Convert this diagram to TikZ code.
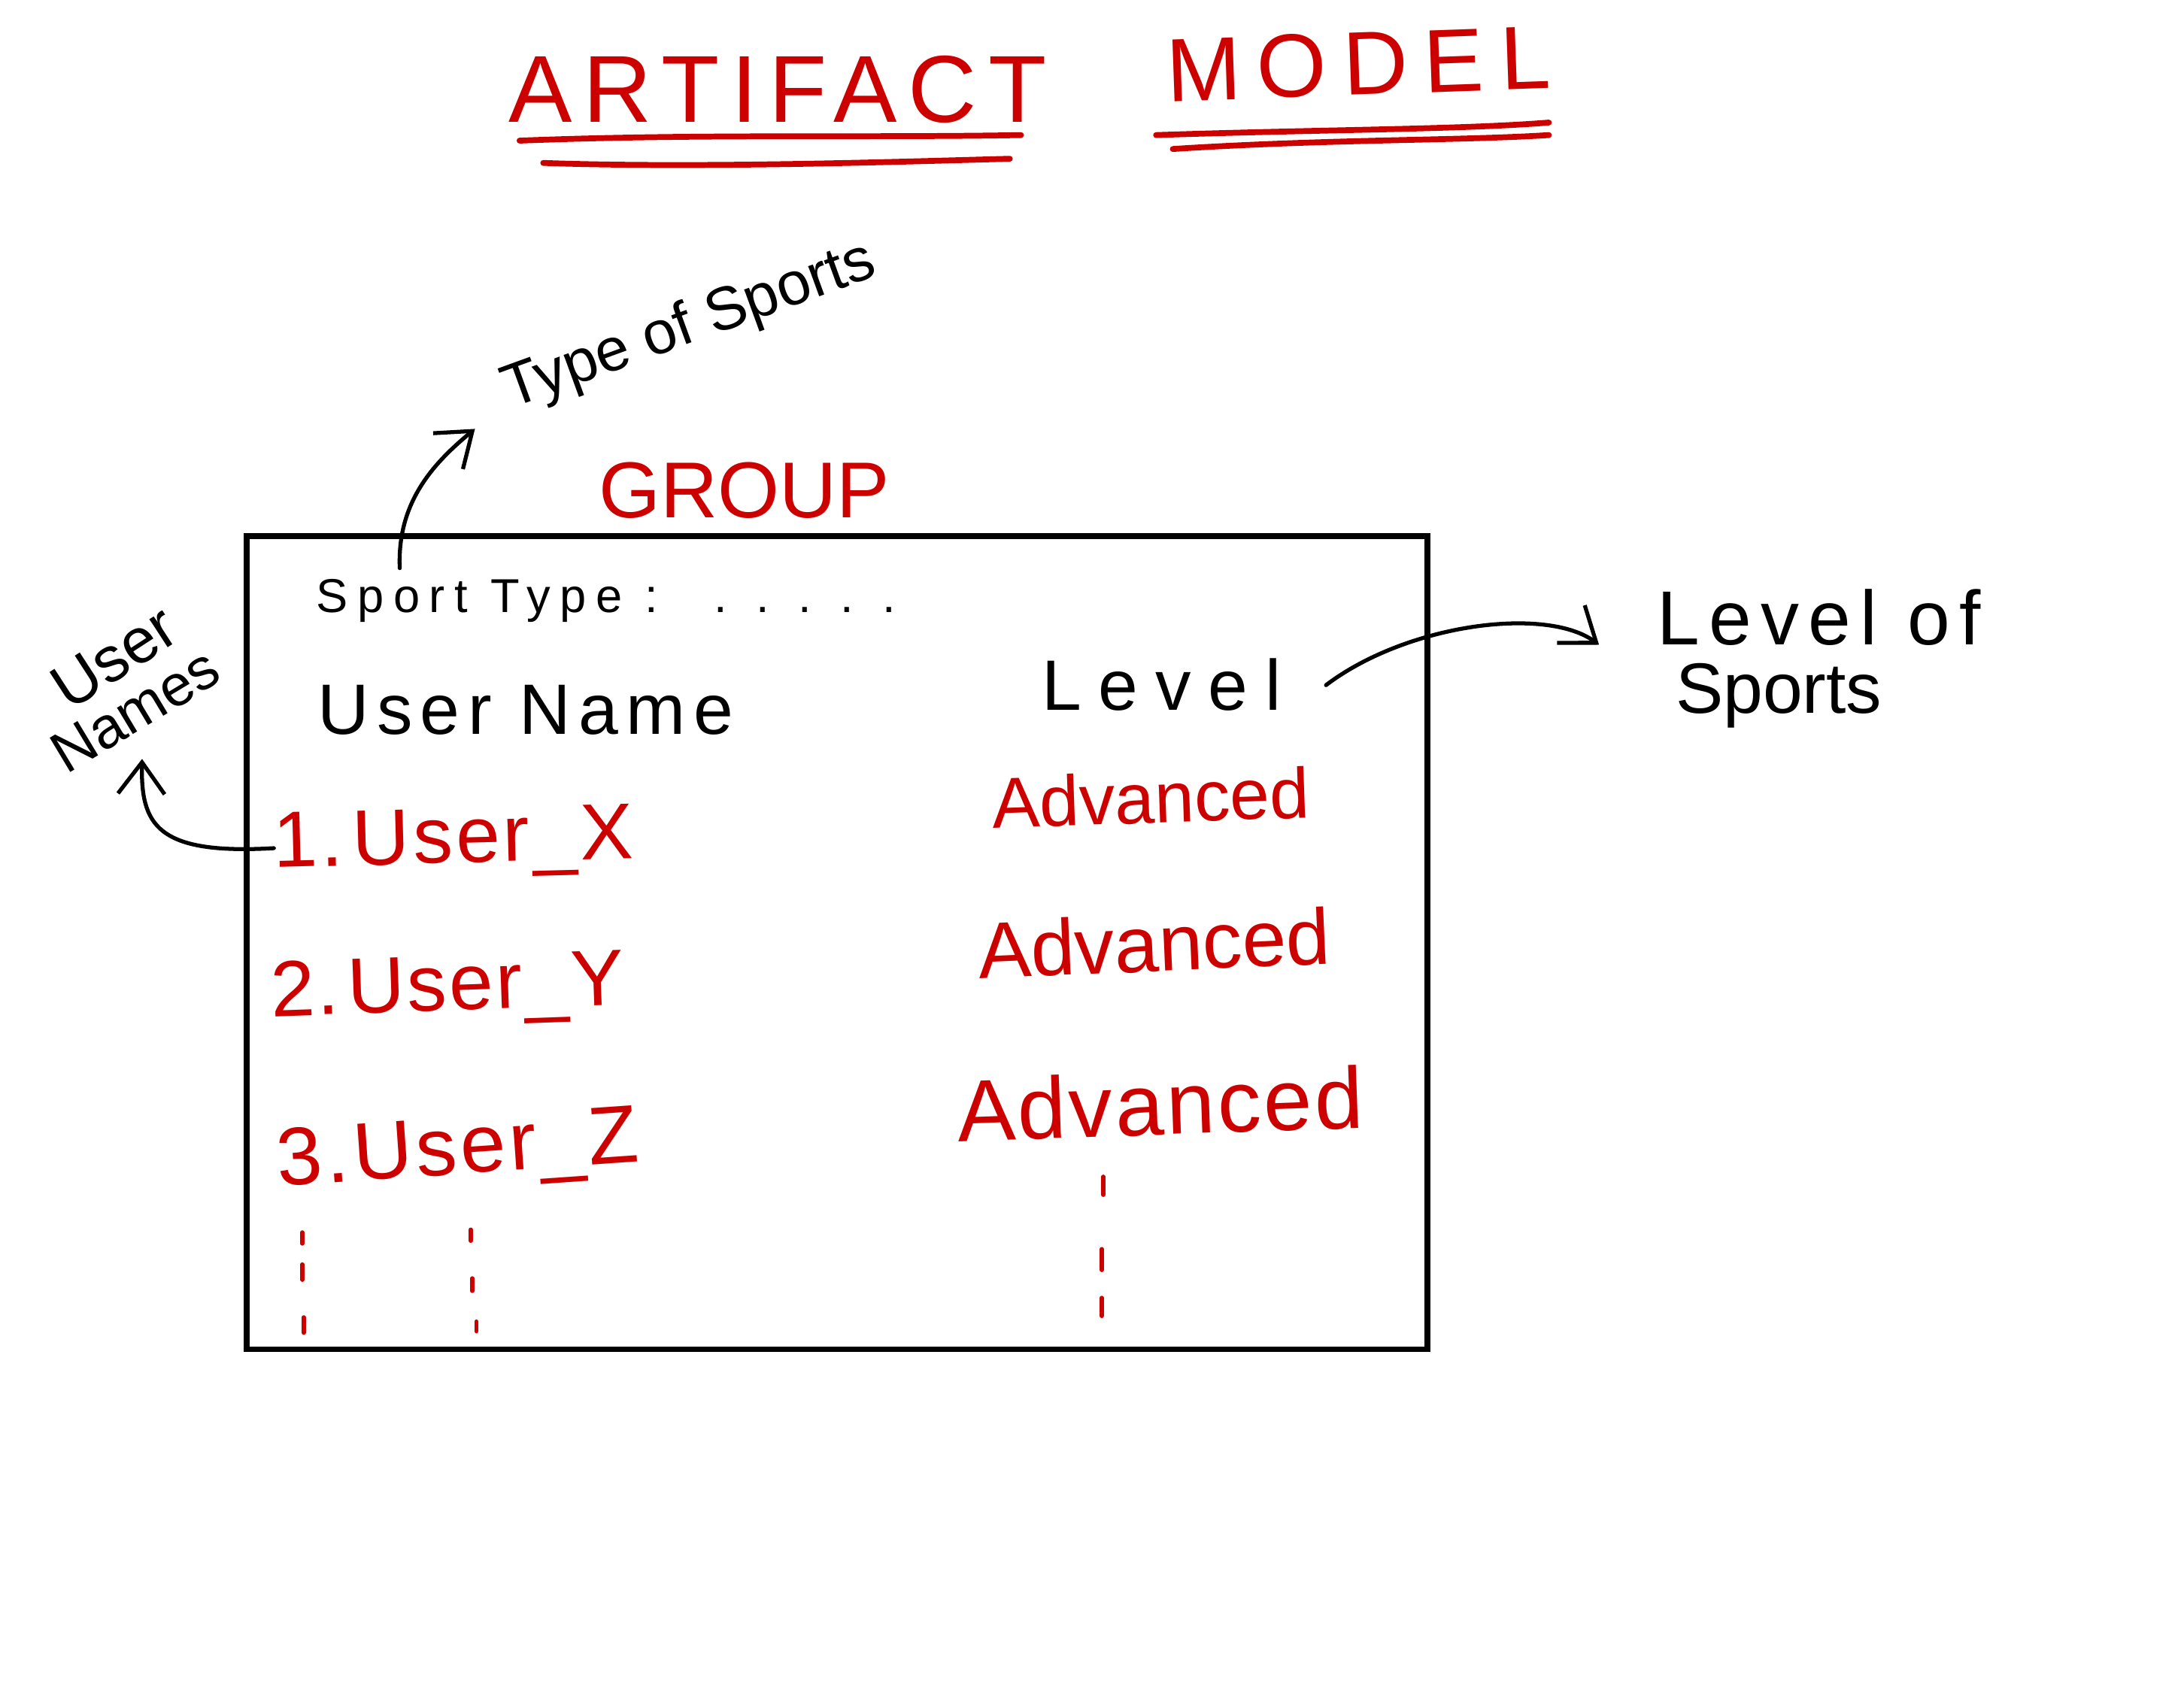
\documentclass[tikz,border=0pt]{standalone}
\usepackage{fontspec}
\setmainfont{Liberation Sans}
\usetikzlibrary{arrows.meta}
\definecolor{inkred}{RGB}{205,0,0}
\newcommand{\hfsz}[2]{\fontsize{#1pt}{#1pt}\selectfont\addfontfeatures{LetterSpace=#2}}
\newcommand{\hfplain}[1]{\fontsize{#1pt}{#1pt}\selectfont}
\begin{document}
\begin{tikzpicture}[x=0.01852cm,y=-0.01852cm,
  lbl/.style={inner sep=0pt, outer sep=0pt},
  redtxt/.style={lbl, text=inkred},
  blktxt/.style={lbl, text=black},
  handarrow/.style={line width=1.5pt, line cap=round, line join=round,
    -{Straight Barb[length=0.42cm,width=0.62cm]}},
  uline/.style={draw=inkred, line width=2.2pt, line cap=round},
  redtick/.style={draw=inkred, line width=1.6pt, line cap=round},
  boxframe/.style={draw=black, line width=2.2pt, inner sep=0pt,
    minimum width=15.705cm, minimum height=10.816cm}]
\useasboundingbox (0,0) rectangle (1568,1212);
\fill[white] (0,0) rectangle (1568,1212);

% title
\node[redtxt, anchor=base west] (art) at (365,88) {\hfsz{36}{12}ARTIFACT};
\node[redtxt, anchor=base west, rotate=2] (model) at (838,73) {\hfsz{34}{18}MODEL};
\draw[uline] (373,101) .. controls (500,96) and (620,99) .. (733,97);
\draw[uline] (390,117) .. controls (500,121) and (650,116) .. (725,114);
\draw[uline] (830,97) .. controls (950,93) and (1050,93) .. (1112,88);
\draw[uline] (842,107) .. controls (950,100) and (1050,101) .. (1112,97);

% group box
\node[redtxt, anchor=base west] (group) at (430,372) {\hfsz{30}{0}GROUP};
\node[boxframe] (box) at (601,677) {};

\node[blktxt, anchor=base west] (sport) at (227,440) {\hfsz{18}{20}Sport Type :\hspace{21pt}.\hspace{11pt}.\hspace{11pt}.\hspace{11pt}.\hspace{11pt}.};
\node[blktxt, anchor=base west] (uname) at (228,527) {\hfsz{27}{11}User Name};
\node[blktxt, anchor=base west] (level) at (748,510) {\hfsz{27}{24}Level};

\node[redtxt, anchor=base west, rotate=1.5] (u1) at (197,623) {\hfsz{30}{4}1.\hspace{-9pt} User\_X};
\node[redtxt, anchor=base west, rotate=2] (u2) at (195,730) {\hfsz{30}{3}2.\hspace{-9pt} User\_Y};
\node[redtxt, anchor=base west, rotate=4] (u3) at (200,852) {\hfsz{31}{4}3.\hspace{-11pt} User\_Z};
\node[redtxt, anchor=base west, rotate=2] (a1) at (713,595) {\hfplain{27}Advanced};
\node[redtxt, anchor=base west, rotate=2.5] (a2) at (703,703) {\hfplain{30}Advanced};
\node[redtxt, anchor=base west, rotate=2] (a3) at (688,820) {\hfsz{33}{3}Advanced};

\foreach \x/\ya/\yb in {217/885/893, 217/908/919, 218/946/957,
                        338/883/891, 339/918/927, 342/949/956,
                        792/845/858, 791/897/912, 791/932/945}
  \draw[redtick] (\x,\ya) -- (\x,\yb);

% annotations
\node[blktxt, rotate=20] (tos) at (495,235) {\hfplain{23}Type of Sports};
\node[blktxt, anchor=base west] (lvl1) at (1190,463) {\hfsz{29}{12}Level of};
\node[blktxt, anchor=base west] (lvl2) at (1203,512) {\hfplain{27}Sports};
\node[blktxt, rotate=33] (un1) at (82,472) {\hfplain{24}User};
\node[blktxt, rotate=31] (un2) at (97,510) {\hfplain{22}Names};

% connectors
\coordinate (tsStart) at (287,408);
\coordinate (tsEnd) at (341,308);
\draw[handarrow] (tsStart) .. controls (285,360) and (312,332) .. (tsEnd);

\coordinate (lvStart) at (952,492);
\coordinate (lvEnd) at (1148,463);
\draw[handarrow] (lvStart) .. controls (1010,448) and (1110,435) .. (lvEnd);

\coordinate (unEnd) at (102,545);
\draw[handarrow] (u1.west) .. controls (112,614) and (101,592) .. (unEnd);
\end{tikzpicture}
\end{document}
